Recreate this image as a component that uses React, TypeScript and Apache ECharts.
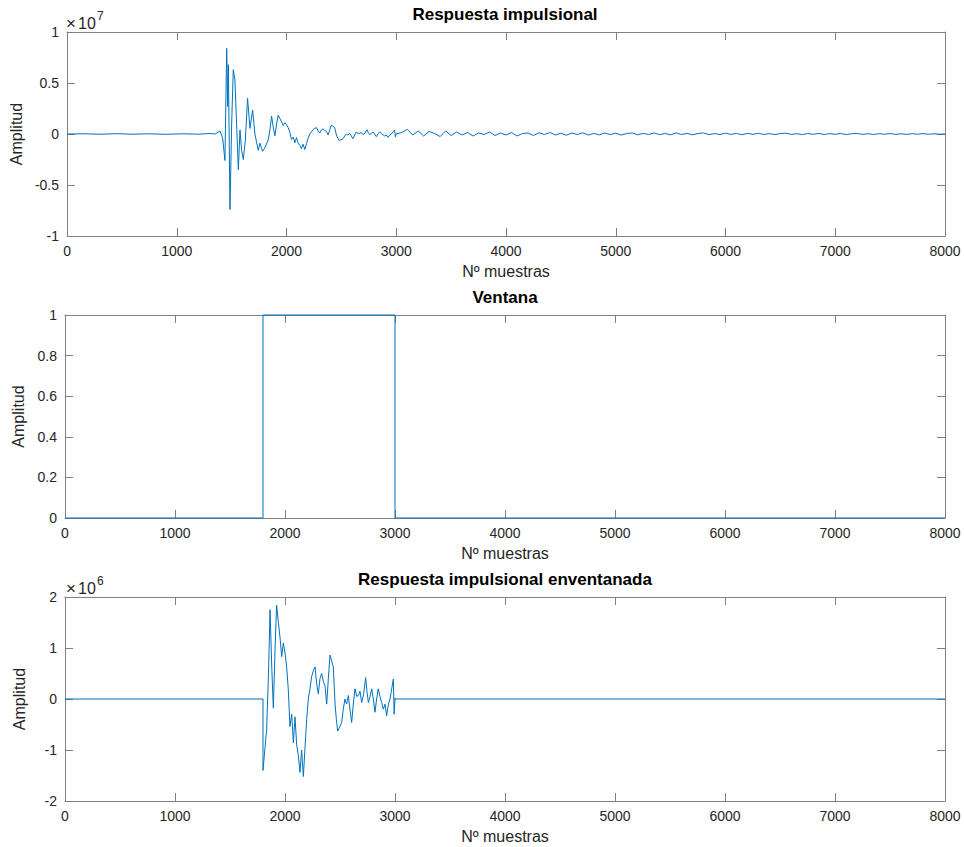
import React, { useEffect, useRef } from "react";
import * as echarts from "echarts";

// ---------- data (amplitudes in millions of units) ----------
const onsetSamples = [0, 150, 300, 450, 600, 750, 900, 1050, 1200, 1300, 1350, 1394, 1418, 1439, 1455, 1464, 1470, 1485, 1500, 1515, 1530, 1545, 1561, 1576, 1591, 1606, 1625, 1645, 1667, 1691, 1712, 1742, 1758, 1782];
const onsetValues = [0, 0.02, -0.02, 0.03, -0.02, 0.02, -0.03, 0.02, -0.02, 0.05, 0, 0.3, -0.4, -2.6, 8.4, 2.7, 6.8, -7.4, 1.0, 6.3, 5.3, 1.0, -3.5, 0.4, -1.6, -2.5, -0.6, 3.5, 0.55, 2.35, 0, -1.6, -0.9, -1.7];

const windowedSamples = [
  1800, 1833, 1850, 1864, 1880, 1894, 1910, 1924, 1940, 1955,
  1970, 1985, 2000, 2015, 2030, 2045, 2061, 2076, 2091, 2106,
  2121, 2136, 2151, 2167, 2182, 2197, 2212, 2227, 2242, 2257,
  2273, 2288, 2303, 2318, 2333, 2348, 2364, 2379, 2394, 2409,
  2424, 2439, 2455, 2467, 2479, 2497, 2515, 2530, 2545, 2560,
  2576, 2590, 2606, 2621, 2636, 2652, 2667, 2682, 2697, 2715,
  2733, 2745, 2758, 2773, 2788, 2803, 2818, 2833, 2848, 2863,
  2879, 2894, 2909, 2924, 2940, 2955, 2970, 2985, 2992, 3000,
];
const windowedValues = [
  -1.4, -0.6, 0.5, 1.75, 0.6, -0.18, 1.0, 1.84, 1.5, 1.2,
  0.83, 1.1, 0.9, 0.63, 0.18, -0.54, -0.3, -0.86, -0.35, -0.9,
  -1.1, -1.44, -1.0, -1.52, -0.95, -0.4, 0, 0.2, 0.44, 0.55,
  0.63, 0.3, 0.1, 0.4, 0.5, 0.35, 0.25, -0.1, 0.4, 0.86,
  0.75, 0.63, -0.1, -0.4, -0.63, -0.55, -0.46, -0.2, 0, -0.1,
  0.07, -0.2, -0.46, -0.1, 0.2, 0.05, 0.07, 0.15, -0.07, 0.1,
  0.42, 0.15, -0.07, 0.05, 0.2, 0, -0.26, 0, 0.2, 0.05,
  -0.07, -0.2, -0.1, -0.33, -0.1, 0, 0.2, 0.39, -0.3, 0.02,
];

const tailStart = 3050;
const tailStep = 50;
const tailValues = [
  0.15, 0.45, -0.1, 0.3, -0.2, 0.25, 0.05, -0.25, 0.3, -0.15,
  0.2, -0.1, 0.15, -0.2, 0.1, -0.05, 0.2, -0.15, 0.1, -0.1,
  0.15, -0.2, 0.05, 0.1, -0.15, 0.12, -0.05, 0.15, -0.1, 0.08,
  -0.12, 0.1, -0.05, 0.12, -0.1, 0.06, -0.08, 0.1, -0.06, 0.08,
  -0.1, 0.05, 0.1, -0.08, 0.06, -0.05, 0.1, -0.06, 0.05, -0.08,
  0.1, -0.05, 0.06, -0.08, 0.05, 0.1, -0.06, 0.04, -0.05, 0.08,
  -0.04, 0.05, -0.07, 0.06, -0.03, 0.07, -0.05, 0.04, -0.06, 0.05,
  0.08, -0.04, 0.03, -0.06, 0.05, -0.03, 0.06, -0.05, 0.04, -0.03,
  0.05, -0.06, 0.03, 0.05, -0.04, 0.03, -0.05, 0.04, -0.03, 0.05,
  -0.04, 0.02, -0.04, 0.03, -0.02, 0.04, -0.03, 0.02, -0.02, 0,
];

const windowSamples = [0, 1800, 1800, 3000, 3000, 8000];
const windowValues = [0, 0, 1, 1, 0, 0];
const windowStart = 1800;
const windowEnd = 3000;

const xTicks = [0, 1000, 2000, 3000, 4000, 5000, 6000, 7000, 8000];
const titles = ["Respuesta impulsional", "Ventana", "Respuesta impulsional enventanada"];
const xLabel = "Nº muestras";
const yLabel = "Amplitud";

// ---------- build ----------
const MEGA = 1e6;
const impulse: [number, number][] = [];
onsetSamples.forEach((s, i) => impulse.push([s, onsetValues[i] * MEGA]));
windowedSamples.forEach((s, i) => impulse.push([s, windowedValues[i] * MEGA]));
tailValues.forEach((v, i) => impulse.push([tailStart + i * tailStep, v * MEGA]));

const windowData: [number, number][] = windowSamples.map((s, i) => [s, windowValues[i]]);

const windowed: [number, number][] = [[0, 0], [windowStart, 0]];
impulse.forEach(([s, v]) => {
  if (s >= windowStart && s <= windowEnd) windowed.push([s, v]);
});
windowed.push([windowEnd, 0], [xTicks[xTicks.length - 1], 0]);

const FONT = '"Liberation Sans", Arial, Helvetica, sans-serif';
const AXIS = "#808080";
const TEXT = "#262626";
const LINE = "#0072BD";

const LEFT = 65;
const WIDTH = 880;
const grids = [
  { top: 32, height: 204 },
  { top: 315, height: 203 },
  { top: 597, height: 204 },
];

const yScales = [
  { min: -1e7, max: 1e7, interval: 0.5e7, fmt: (v: number) => String(Math.round((v / 1e7) * 100) / 100) },
  { min: 0, max: 1, interval: 0.2, fmt: (v: number) => String(Math.round(v * 10) / 10) },
  { min: -2e6, max: 2e6, interval: 1e6, fmt: (v: number) => String(Math.round(v / 1e6)) },
];

const tick = { show: true, inside: true, length: 8, lineStyle: { color: AXIS, width: 1 } };
const axisLine = { show: true, onZero: false, lineStyle: { color: AXIS, width: 1 } };

const xAxes: any[] = [];
const yAxes: any[] = [];
grids.forEach((g, gi) => {
  xAxes.push({
    type: "value", gridIndex: gi, position: "bottom", min: xTicks[0], max: xTicks[xTicks.length - 1], interval: 1000,
    axisLine, axisTick: tick, splitLine: { show: false },
    axisLabel: {
      show: true, color: TEXT, fontSize: 14, fontFamily: FONT, margin: 8,
      showMinLabel: true, showMaxLabel: true, formatter: (v: number) => String(v),
    },
    name: xLabel, nameLocation: "middle", nameGap: 27,
    nameTextStyle: { color: TEXT, fontSize: 16, fontFamily: FONT },
  });
  xAxes.push({
    type: "value", gridIndex: gi, position: "top", min: xTicks[0], max: xTicks[xTicks.length - 1], interval: 1000,
    axisLine, axisTick: tick, splitLine: { show: false }, axisLabel: { show: false },
  });
  const ys = yScales[gi];
  yAxes.push({
    type: "value", gridIndex: gi, position: "left", min: ys.min, max: ys.max, interval: ys.interval,
    axisLine, axisTick: tick, splitLine: { show: false },
    axisLabel: { show: true, color: TEXT, fontSize: 14, fontFamily: FONT, margin: 8, formatter: ys.fmt, showMinLabel: true, showMaxLabel: true },
    name: yLabel, nameLocation: "middle", nameGap: 38, nameRotate: 90,
    nameTextStyle: { color: TEXT, fontSize: 16, fontFamily: FONT },
  });
  yAxes.push({
    type: "value", gridIndex: gi, position: "right", min: ys.min, max: ys.max, interval: ys.interval,
    axisLine, axisTick: tick, splitLine: { show: false }, axisLabel: { show: false },
  });
});

const seriesData = [impulse, windowData, windowed];

const graphics: any[] = [];
grids.forEach((g, gi) => {
  graphics.push({
    type: "text", x: LEFT + WIDTH / 2, y: g.top - 18,
    style: { text: titles[gi], font: `bold 17px ${FONT}`, fill: "#000", textAlign: "center", textVerticalAlign: "middle" },
  });
});
const exps = [{ gi: 0, e: "7" }, { gi: 2, e: "6" }];
exps.forEach(({ gi, e }) => {
  const top = grids[gi].top;
  graphics.push({
    type: "text", x: 66, y: top - 9,
    style: { text: "×", font: `17px ${FONT}`, fill: TEXT, textAlign: "left", textVerticalAlign: "middle" },
  });
  graphics.push({
    type: "text", x: 78, y: top - 9,
    style: { text: "10", font: `16px ${FONT}`, fill: TEXT, textAlign: "left", textVerticalAlign: "middle" },
  });
  graphics.push({
    type: "text", x: 97, y: top - 16,
    style: { text: e, font: `12px ${FONT}`, fill: TEXT, textAlign: "left", textVerticalAlign: "middle" },
  });
});

const option: any = {
  animation: false,
  backgroundColor: "#ffffff",
  grid: grids.map((g) => ({ left: LEFT, top: g.top, width: WIDTH, height: g.height, show: false })),
  xAxis: xAxes,
  yAxis: yAxes,
  graphic: graphics,
  series: seriesData.map((d, i) => ({
    type: "line",
    xAxisIndex: i * 2,
    yAxisIndex: i * 2,
    data: d,
    showSymbol: false,
    symbol: "none",
    clip: i !== 1,
    z: 5,
    lineStyle: { color: LINE, width: 1 },
    itemStyle: { color: LINE },
    emphasis: { disabled: true },
  })),
};

export default function App() {
  const ref = useRef<HTMLDivElement>(null);
  useEffect(() => {
    const chart = echarts.init(ref.current as HTMLDivElement, null, { renderer: "svg" });
    chart.setOption(option);
    return () => chart.dispose();
  }, []);
  return (
    <div
      ref={ref}
      style={{ position: "absolute", left: 0, top: 0, width: 964, height: 847, background: "#fff" }}
    />
  );
}
